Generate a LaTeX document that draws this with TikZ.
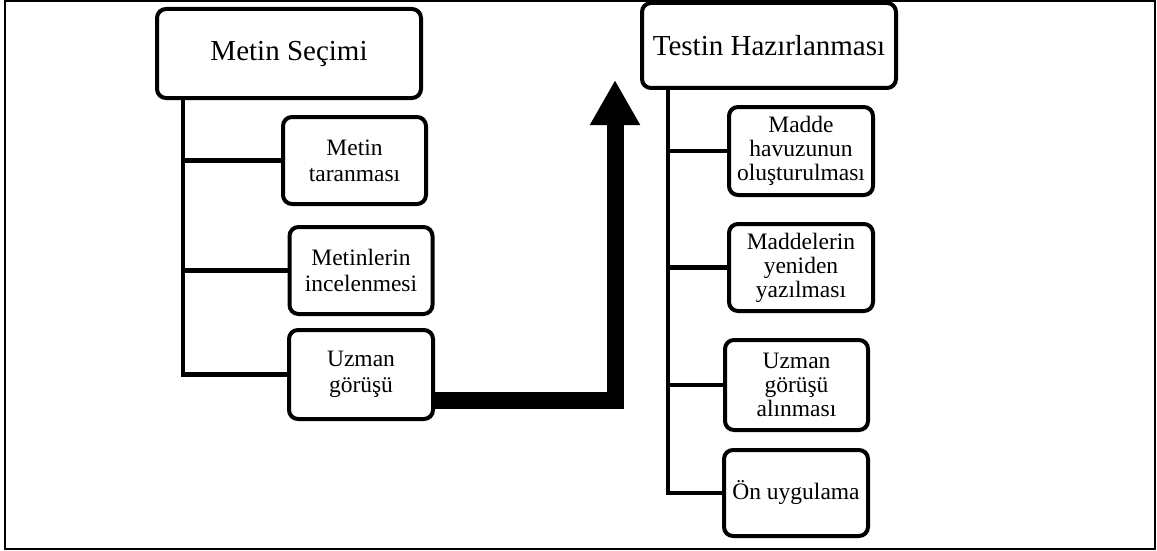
\documentclass[tikz,border=0pt]{standalone}
\usepackage{fontspec}
\setmainfont{Liberation Serif}
\usetikzlibrary{arrows.meta}
\begin{document}
\begin{tikzpicture}[x=1pt,y=-1pt,
    mainbox/.style={draw,line width=4pt,rounded corners=9pt,align=center,inner sep=0pt,
      font=\fontsize{29}{32}\selectfont},
    leftbox/.style={draw,line width=4pt,rounded corners=9pt,align=center,inner sep=0pt,
      minimum width=143pt,minimum height=87pt,font=\fontsize{23.5}{26}\selectfont},
    rightbox/.style={leftbox,font=\fontsize{23.5}{24}\selectfont},
    link/.style={line width=4.5pt},
    bigarrow/.style={line width=17pt,-{Triangle[width=47pt,length=45pt]}}]
    \useasboundingbox (0,0) rectangle (1157,551);
    \draw[line width=2pt] (5,1) rectangle (1155,549);

    \node[mainbox,minimum width=264pt,minimum height=89pt] (sel) at (289,53.5) {Metin Seçimi};
    \node[leftbox] (tar) at (354.5,160.5) {Metin\\taranması};
    \node[leftbox] (inc) at (361,270.5) {Metinlerin\\incelenmesi};
    \node[leftbox,minimum width=144pt,minimum height=89pt] (uzm) at (361,374.5) {Uzman\\görüşü};

    \node[mainbox,minimum width=254pt,minimum height=85pt] (hzr) at (769,45.5) {Testin Hazırlanması};
    \node[rightbox,minimum width=144pt,minimum height=88pt] (hav) at (801,151) {Madde\\havuzunun\\oluşturulması};
    \node[rightbox,minimum width=144pt] (mad) at (801,267.5) {Maddelerin\\yeniden\\yazılması};
    \node[rightbox,minimum height=90pt] (alm) at (796.5,385) {Uzman\\görüşü\\alınması};
    \node[rightbox,minimum width=144pt,minimum height=86pt] (onu) at (796,493) {Ön uygulama};

    \coordinate (lt) at (183,0);
    \coordinate (rt) at (668,0);
    \coordinate (tip) at (615,80);

    \draw[link] (sel.south -| lt) |- (uzm.west);
    \draw[link] (tar.west -| lt) -- (tar.west);
    \draw[link] (inc.west -| lt) -- (inc.west);

    \draw[link] (hzr.south -| rt) |- (onu.west);
    \draw[link] (hav.west -| rt) -- (hav.west);
    \draw[link] (mad.west -| rt) -- (mad.west);
    \draw[link] (alm.west -| rt) -- (alm.west);

    \draw[bigarrow] (uzm.east |- 0,400) -| (tip);
\end{tikzpicture}
\end{document}
